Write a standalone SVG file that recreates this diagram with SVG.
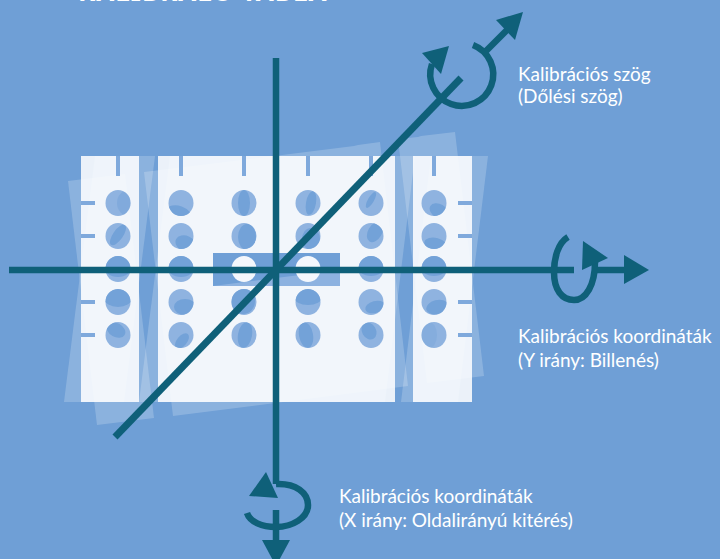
<svg xmlns="http://www.w3.org/2000/svg" width="720" height="559" viewBox="0 0 720 559">
<style>
.ghost{fill:#fff;fill-opacity:.2}
.strip{fill:#fff;fill-opacity:.86}
.hole{fill:#8fb3e0}
.lens{fill:#73a2d8}
.tick{fill:#7fa9dc}
.ax{fill:none;stroke:#0f6079;stroke-width:6.500}
.head{fill:#0f6079}
.lbl{font-family:Lato,"Noto Sans",sans-serif;font-size:19px;fill:#fff}
.title{font-family:"Noto Sans","Open Sans",sans-serif;font-weight:700;font-size:26px;fill:#fff}
</style>
<defs>
<clipPath id="holes">
<ellipse cx="118" cy="203" rx="12.500" ry="13"/><ellipse cx="181" cy="203" rx="12.500" ry="13"/><ellipse cx="244" cy="203" rx="12.500" ry="13"/><ellipse cx="308" cy="203" rx="12.500" ry="13"/><ellipse cx="371" cy="203" rx="12.500" ry="13"/><ellipse cx="434" cy="203" rx="12.500" ry="13"/>
<ellipse cx="118" cy="236" rx="12.500" ry="13"/><ellipse cx="181" cy="236" rx="12.500" ry="13"/><ellipse cx="244" cy="236" rx="12.500" ry="13"/><ellipse cx="308" cy="236" rx="12.500" ry="13"/><ellipse cx="371" cy="236" rx="12.500" ry="13"/><ellipse cx="434" cy="236" rx="12.500" ry="13"/>
<ellipse cx="118" cy="269" rx="12.500" ry="13"/><ellipse cx="181" cy="269" rx="12.500" ry="13"/><ellipse cx="371" cy="269" rx="12.500" ry="13"/><ellipse cx="434" cy="269" rx="12.500" ry="13"/>
<ellipse cx="118" cy="302" rx="12.500" ry="13"/><ellipse cx="181" cy="302" rx="12.500" ry="13"/><ellipse cx="244" cy="302" rx="12.500" ry="13"/><ellipse cx="308" cy="302" rx="12.500" ry="13"/><ellipse cx="371" cy="302" rx="12.500" ry="13"/><ellipse cx="434" cy="302" rx="12.500" ry="13"/>
<ellipse cx="118" cy="335" rx="12.500" ry="13"/><ellipse cx="181" cy="335" rx="12.500" ry="13"/><ellipse cx="244" cy="335" rx="12.500" ry="13"/><ellipse cx="308" cy="335" rx="12.500" ry="13"/><ellipse cx="371" cy="335" rx="12.500" ry="13"/><ellipse cx="434" cy="335" rx="12.500" ry="13"/>
</clipPath>
</defs>
<rect width="720" height="559" fill="#6f9fd6"/>
<text class="title" x="78" y="1" letter-spacing="1">KALIBRÁLÓ TÁBLA</text>
<g id="ghosts">
<polygon class="ghost" points="95,156 155,156 124,402 64,402"/>
<polygon class="ghost" points="68,181 125,174 154,418 97,425"/>
<polygon class="ghost" points="144,172 354,146 358,145 380,142 408,386 173,416"/>
<polygon class="ghost" points="170,156 415,156 385,402 139,402"/>
<polygon class="ghost" points="398,139 418,137 421,136 455,132 484,376 427,383"/>
<polygon class="ghost" points="431,156 488,156 458,402 401,402"/>
</g>
<g id="panel">
<rect class="strip" x="81" y="156" width="58" height="246"/>
<rect class="strip" x="158" y="156" width="237" height="246"/>
<rect class="strip" x="413" y="156" width="59" height="246"/>
<g id="ticks">
<rect class="tick" x="116" y="156" width="4" height="20"/><rect class="tick" x="179" y="156" width="4" height="20"/><rect class="tick" x="242" y="156" width="4" height="20"/><rect class="tick" x="306" y="156" width="4" height="20"/><rect class="tick" x="369" y="156" width="4" height="20"/><rect class="tick" x="432" y="156" width="4" height="20"/>
<rect class="tick" x="81" y="201" width="14" height="4"/><rect class="tick" x="81" y="234" width="14" height="4"/><rect class="tick" x="81" y="300" width="14" height="4"/><rect class="tick" x="81" y="333" width="14" height="4"/>
<rect class="tick" x="458" y="201" width="14" height="4"/><rect class="tick" x="458" y="234" width="14" height="4"/><rect class="tick" x="458" y="300" width="14" height="4"/><rect class="tick" x="458" y="333" width="14" height="4"/>
</g>
<g id="hole-bases" class="hole">
<ellipse cx="118" cy="203" rx="12.500" ry="13"/><ellipse cx="181" cy="203" rx="12.500" ry="13"/><ellipse cx="244" cy="203" rx="12.500" ry="13"/><ellipse cx="308" cy="203" rx="12.500" ry="13"/><ellipse cx="371" cy="203" rx="12.500" ry="13"/><ellipse cx="434" cy="203" rx="12.500" ry="13"/>
<ellipse cx="118" cy="236" rx="12.500" ry="13"/><ellipse cx="181" cy="236" rx="12.500" ry="13"/><ellipse cx="244" cy="236" rx="12.500" ry="13"/><ellipse cx="308" cy="236" rx="12.500" ry="13"/><ellipse cx="371" cy="236" rx="12.500" ry="13"/><ellipse cx="434" cy="236" rx="12.500" ry="13"/>
<ellipse cx="118" cy="269" rx="12.500" ry="13"/><ellipse cx="181" cy="269" rx="12.500" ry="13"/><ellipse cx="371" cy="269" rx="12.500" ry="13"/><ellipse cx="434" cy="269" rx="12.500" ry="13"/>
<ellipse cx="118" cy="302" rx="12.500" ry="13"/><ellipse cx="181" cy="302" rx="12.500" ry="13"/><ellipse cx="244" cy="302" rx="12.500" ry="13"/><ellipse cx="308" cy="302" rx="12.500" ry="13"/><ellipse cx="371" cy="302" rx="12.500" ry="13"/><ellipse cx="434" cy="302" rx="12.500" ry="13"/>
<ellipse cx="118" cy="335" rx="12.500" ry="13"/><ellipse cx="181" cy="335" rx="12.500" ry="13"/><ellipse cx="244" cy="335" rx="12.500" ry="13"/><ellipse cx="308" cy="335" rx="12.500" ry="13"/><ellipse cx="371" cy="335" rx="12.500" ry="13"/><ellipse cx="434" cy="335" rx="12.500" ry="13"/>
</g>
<g id="hole-overlaps" class="lens" clip-path="url(#holes)">
<ellipse cx="129" cy="203" rx="12" ry="13" opacity=".5"/>
<ellipse cx="179" cy="214" rx="13" ry="8" transform="rotate(20 179 214)"/>
<ellipse cx="244" cy="203" rx="6" ry="13"/>
<ellipse cx="311" cy="203" rx="5" ry="12" transform="rotate(10 311 203)"/>
<ellipse cx="371" cy="200" rx="3" ry="9" transform="rotate(30 371 200)"/>
<ellipse cx="439" cy="211" rx="10" ry="7" transform="rotate(30 439 211)"/>
<ellipse cx="118" cy="235" rx="5" ry="12" transform="rotate(35 118 235)"/>
<ellipse cx="186" cy="244" rx="11" ry="8" transform="rotate(25 186 244)"/>
<ellipse cx="247" cy="237" rx="9" ry="13"/>
<ellipse cx="311" cy="239" rx="9" ry="11"/>
<ellipse cx="375" cy="232" rx="7" ry="11" transform="rotate(30 375 232)"/>
<ellipse cx="436" cy="245" rx="12" ry="7" transform="rotate(15 436 245)"/>
<ellipse cx="118" cy="266" rx="14" ry="11"/>
<ellipse cx="181" cy="266" rx="14" ry="11"/>
<ellipse cx="371" cy="265" rx="14" ry="11"/>
<ellipse cx="434" cy="265" rx="14" ry="11"/>
<ellipse cx="118" cy="298" rx="14" ry="9"/>
<ellipse cx="185" cy="307" rx="11" ry="8"/>
<ellipse cx="243" cy="301" rx="12" ry="13"/>
<ellipse cx="308" cy="297" rx="14" ry="8"/>
<ellipse cx="375" cy="307" rx="10" ry="6" transform="rotate(-15 375 307)"/>
<ellipse cx="437" cy="307" rx="11" ry="7" transform="rotate(-15 437 307)"/>
<ellipse cx="116" cy="330" rx="10" ry="7" transform="rotate(30 116 330)"/>
<ellipse cx="182" cy="341" rx="5" ry="9" transform="rotate(40 182 341)"/>
<ellipse cx="245" cy="335" rx="7" ry="13" transform="rotate(10 245 335)"/>
<ellipse cx="306" cy="335" rx="7" ry="13" transform="rotate(-10 306 335)"/>
<ellipse cx="369" cy="331" rx="7" ry="9" transform="rotate(-30 369 331)"/>
<ellipse cx="429" cy="335" rx="8" ry="13" opacity=".35"/>
</g>
<g id="center-block">
<rect x="213" y="253" width="127" height="33" fill="#6f9fd6"/>
<polygon points="213,286 340,270 340,286" fill="#8db2e0"/>
<ellipse cx="244" cy="269" rx="12.500" ry="13" fill="#f4f7fc"/>
<ellipse cx="308" cy="269" rx="12.500" ry="13" fill="#f4f7fc"/>
</g>
</g>
<g id="connectors">
<path class="ax" d="M276 58V484"/>
<path class="ax" d="M276 510V545"/>
<path class="ax" d="M9 270H574"/>
<path class="ax" d="M597 270H628"/>
<path class="ax" d="M115 437L461 78" style="stroke-width:7"/>
<path class="ax" d="M485 52L507 30"/>
<path class="ax" d="M473 45A31.500 31.500 0 1 1 432 64"/>
<path class="ax" d="M568 237C558 243 554 258 554 272C554 290 562 300 574 300C586 300 595 285 595 262"/>
<path class="ax" d="M276 484C296 483 308 493 308 505C308 518 292 527 276 527C262 527 250 522 247 513"/>
<polygon class="head" points="262,540 290,540 276,566"/>
<polygon class="head" points="624,255 649,270 624,284"/>
<polygon class="head" points="496,20 523,12 515,40"/>
<polygon class="head" points="422,53 449,46 441,74"/>
<polygon class="head" points="583,241 608,258 582,270"/>
<polygon class="head" points="249,496 266,472 278,498"/>
</g>
<g id="labels">
<text class="lbl" x="518" y="81">Kalibrációs szög</text>
<text class="lbl" x="518" y="103">(Dőlési szög)</text>
<text class="lbl" x="518" y="343">Kalibrációs koordináták</text>
<text class="lbl" x="518" y="367">(Y irány: Billenés)</text>
<text class="lbl" x="339" y="503">Kalibrációs koordináták</text>
<text class="lbl" x="339" y="527">(X irány: Oldalirányú kitérés)</text>
</g>
</svg>
